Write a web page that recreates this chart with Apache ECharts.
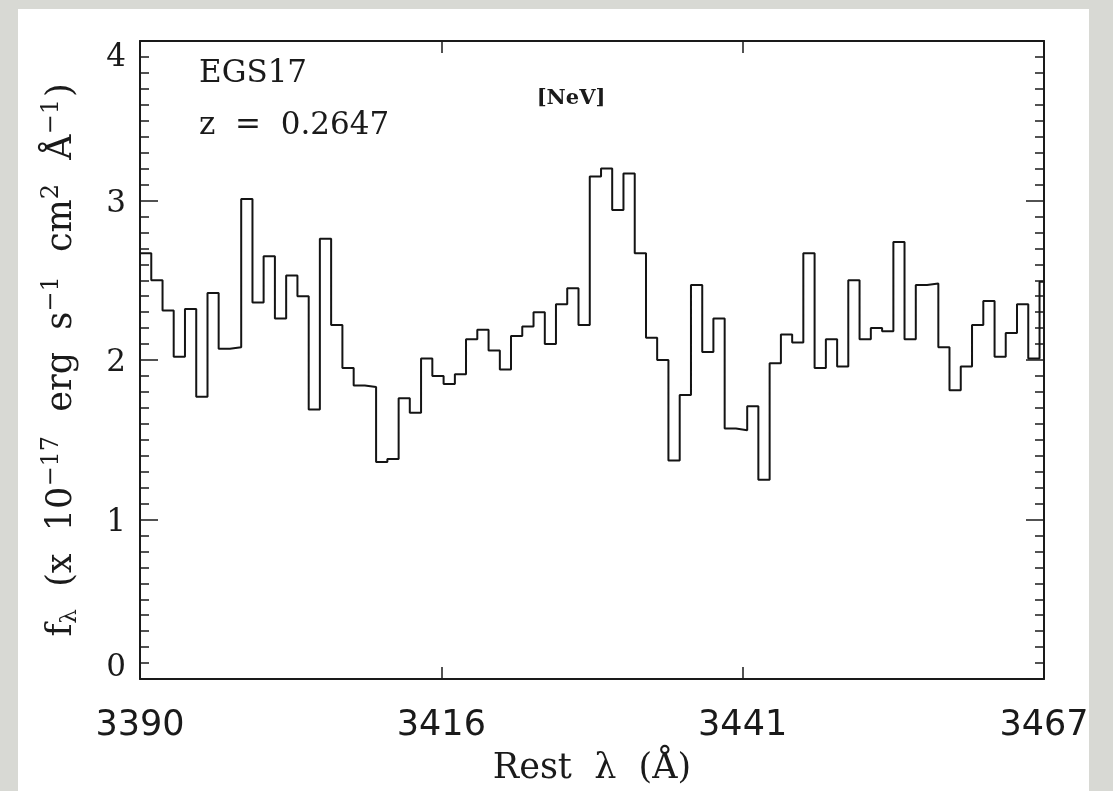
<!DOCTYPE html>
<html>
<head>
<meta charset="utf-8">
<script src="https://cdn.jsdelivr.net/npm/echarts@6/dist/echarts.min.js"></script>
<style>
html,body{margin:0;padding:0;background:#d8d9d4;}
#chart{width:1113px;height:791px;}
</style>
</head>
<body>
<div id="chart"></div>
<script>
// Rest wavelength of each bin's left edge (Å); last entry is the right edge of the last bin
const binEdges = [
  3390.00, 3390.96, 3391.92, 3392.87, 3393.83, 3394.79, 3395.75, 3396.70, 3397.66, 3398.62,
  3399.58, 3400.53, 3401.49, 3402.45, 3403.41, 3404.37, 3405.32, 3406.28, 3407.24, 3408.20,
  3409.15, 3410.11, 3411.07, 3412.03, 3412.98, 3413.94, 3414.90, 3415.86, 3416.82, 3417.77,
  3418.73, 3419.69, 3420.65, 3421.60, 3422.56, 3423.52, 3424.48, 3425.43, 3426.39, 3427.35,
  3428.31, 3429.27, 3430.22, 3431.18, 3432.14, 3433.10, 3434.05, 3435.01, 3435.97, 3436.93,
  3437.89, 3438.84, 3439.80, 3440.76, 3441.72, 3442.67, 3443.63, 3444.59, 3445.55, 3446.50,
  3447.46, 3448.42, 3449.38, 3450.33, 3451.29, 3452.25, 3453.21, 3454.17, 3455.12, 3456.08,
  3457.04, 3458.00, 3458.95, 3459.91, 3460.87, 3461.83, 3462.79, 3463.74, 3464.70, 3465.66,
  3466.62, 3467.57
];
// Flux density in each bin (x 10^-17 erg s^-1 cm^-2 Å^-1)
const flux = [
  2.67, 2.50, 2.31, 2.02, 2.32, 1.77, 2.42, 2.07, 2.08, 3.01,
  2.36, 2.65, 2.26, 2.53, 2.40, 1.69, 2.76, 2.22, 1.95, 1.84,
  1.83, 1.36, 1.38, 1.76, 1.67, 2.01, 1.90, 1.85, 1.91, 2.13,
  2.19, 2.06, 1.94, 2.15, 2.21, 2.30, 2.10, 2.35, 2.45, 2.22,
  3.15, 3.20, 2.94, 3.17, 2.67, 2.14, 2.00, 1.37, 1.78, 2.47,
  2.05, 2.26, 1.57, 1.56, 1.71, 1.25, 1.98, 2.16, 2.11, 2.67,
  1.95, 2.13, 1.96, 2.50, 2.13, 2.20, 2.18, 2.74, 2.13, 2.47,
  2.48, 2.08, 1.81, 1.96, 2.22, 2.37, 2.02, 2.17, 2.35, 2.01,
  2.49
];
const xTickValues = [3390, 3415.67, 3441.33, 3467];
const xTickLabels = ['3390', '3416', '3441', '3467'];
const yTickLabels = ['0', '1', '2', '3', '4'];
const objectName = 'EGS17';
const redshiftText = 'z  =  0.2647';
const lineName = '[NeV]';

const serif = '"DejaVu Serif", "Liberation Serif", serif';
const sans = '"DejaVu Sans", "Liberation Sans", sans-serif';
const ink = '#1a1a1a';

const stepData = binEdges.map((x, i) => [x, flux[Math.min(i, flux.length - 1)]]);

const chart = echarts.init(document.getElementById('chart'), null, {renderer: 'canvas'});

const yLabelRich = {
  n: {fontFamily: serif, fontSize: 31, color: ink, padding: [6, 0, 0, 0]},
  hi: {fontFamily: serif, fontSize: 31, color: ink, padding: [34, 0, 0, 0]},
  lo: {fontFamily: serif, fontSize: 31, color: ink, padding: [0, 0, 22, 0]}
};

const option = {
  backgroundColor: '#d8d9d4',
  animation: false,
  grid: {left: 140, right: 69, top: 41, bottom: 110, containLabel: false},
  graphic: [
    {type: 'rect', z: -100, shape: {x: 18, y: 9, width: 1071, height: 800}, style: {fill: '#ffffff'}},
    {type: 'text', z: 10, x: 199, y: 74, style: {text: objectName, font: '31px ' + serif, fill: ink, align: 'left', verticalAlign: 'middle'}},
    {type: 'text', z: 10, x: 199, y: 126, style: {text: redshiftText, font: '31px ' + serif, fill: ink, align: 'left', verticalAlign: 'middle'}},
    {type: 'text', z: 10, x: 571, y: 99, style: {text: lineName, font: '600 21px ' + serif, fill: ink, align: 'center', verticalAlign: 'middle'}}
  ],
  xAxis: [
    {
      type: 'value', position: 'bottom', min: 3390, max: 3467,
      name: 'Rest  λ  (Å)', nameLocation: 'middle', nameGap: 72,
      nameTextStyle: {fontFamily: serif, fontSize: 35, color: ink},
      axisLine: {show: true, onZero: false, lineStyle: {color: ink, width: 2}},
      axisTick: {show: true, inside: true, length: 12, lineStyle: {color: ink, width: 1.5}, customValues: xTickValues},
      axisLabel: {
        show: true, margin: 29, fontFamily: sans, fontSize: 35, color: ink,
        customValues: xTickValues,
        formatter: (v) => xTickLabels[xTickValues.indexOf(v)]
      },
      splitLine: {show: false}
    },
    {
      type: 'value', position: 'top', min: 3390, max: 3467,
      axisLine: {show: true, onZero: false, lineStyle: {color: ink, width: 2}},
      axisTick: {show: true, inside: true, length: 12, lineStyle: {color: ink, width: 1.5}, customValues: xTickValues},
      axisLabel: {show: false},
      splitLine: {show: false}
    }
  ],
  yAxis: [
    {
      type: 'value', position: 'left', min: 0, max: 4, interval: 1,
      name: '{t|f}{sub|λ}{t|  (x  10}{sup|−17}{t|  erg  s}{sup|−1}{t|  cm}{sup|2}{t|  Å}{sup|−1}{t|)}',
      nameLocation: 'middle', nameGap: 56, nameRotate: 90,
      nameTextStyle: {
        rich: {
          t: {fontFamily: serif, fontSize: 35, color: ink},
          sup: {fontFamily: serif, fontSize: 24, color: ink, padding: [0, 2, 20, 0]},
          sub: {fontFamily: serif, fontSize: 23, color: ink, padding: [16, 0, 0, 0]}
        }
      },
      axisLine: {show: true, onZero: false, lineStyle: {color: ink, width: 2}},
      axisTick: {show: true, inside: true, length: 18, lineStyle: {color: ink, width: 1.5}},
      minorTick: {show: true, splitNumber: 10, length: 9, lineStyle: {color: ink, width: 1.5}},
      axisLabel: {
        show: true, margin: 14,
        formatter: (v, i) => {
          const s = yTickLabels[i];
          if (i === 0) return '{lo|' + s + '}';
          if (i === yTickLabels.length - 1) return '{hi|' + s + '}';
          return '{n|' + s + '}';
        },
        rich: yLabelRich
      },
      splitLine: {show: false}
    },
    {
      type: 'value', position: 'right', min: 0, max: 4, interval: 1,
      axisLine: {show: true, onZero: false, lineStyle: {color: ink, width: 2}},
      axisTick: {show: true, inside: true, length: 18, lineStyle: {color: ink, width: 1.5}},
      minorTick: {show: true, splitNumber: 10, length: 9, lineStyle: {color: ink, width: 1.5}},
      axisLabel: {show: false},
      splitLine: {show: false}
    }
  ],
  series: [
    {
      type: 'line', xAxisIndex: 0, yAxisIndex: 0, step: 'end',
      data: stepData, showSymbol: false, symbol: 'none', clip: true,
      lineStyle: {color: '#141414', width: 2}
    }
  ]
};
chart.setOption(option);
</script>
</body>
</html>
